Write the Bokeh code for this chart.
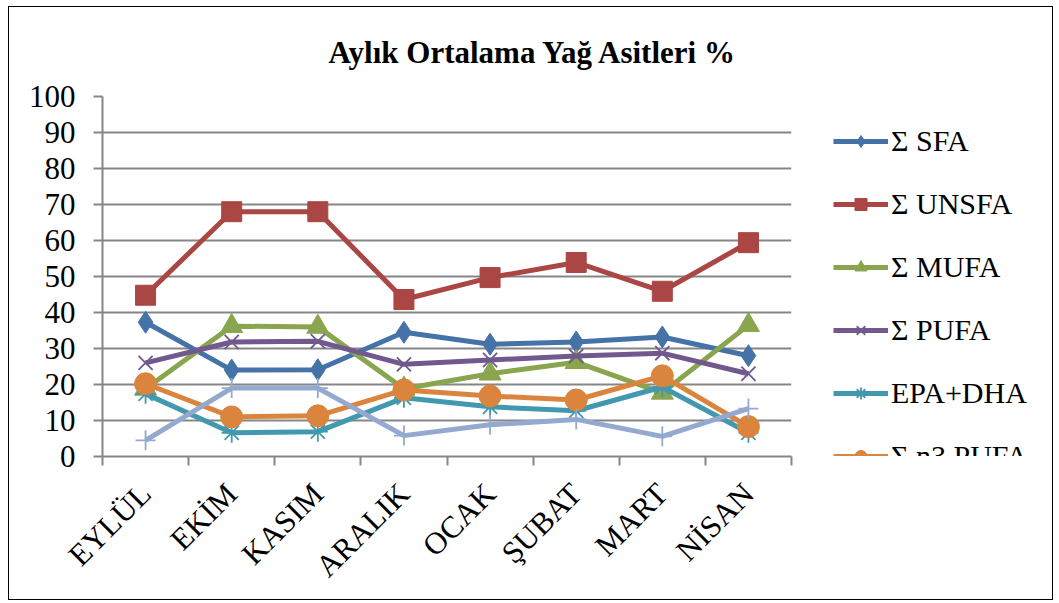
import math
from bokeh.plotting import figure
from bokeh.layouts import row
from bokeh.models import Legend, LegendItem, FixedTicker, Title, Range1d
from bokeh.embed import file_html
from bokeh.resources import INLINE

months = ["EYLÜL", "EKİM", "KASIM", "ARALIK", "OCAK", "ŞUBAT", "MART", "NİSAN"]

sfa = [37.3, 24.0, 24.1, 34.5, 31.2, 31.8, 33.2, 28.0]
unsfa = [44.8, 68.0, 68.0, 43.6, 49.7, 53.9, 45.9, 59.4]
mufa = [18.8, 36.2, 36.0, 18.8, 23.0, 26.2, 17.7, 36.5]
pufa = [26.0, 31.8, 32.0, 25.6, 26.8, 27.9, 28.7, 23.0]
epa_dha = [17.4, 6.6, 6.9, 16.3, 13.8, 12.7, 19.3, 6.6]
n3_pufa = [20.2, 11.0, 11.3, 18.5, 16.8, 15.7, 22.4, 8.3]
n6_pufa = [4.5, 19.0, 19.0, 5.8, 8.8, 10.3, 5.6, 13.3]

series_names = ["Σ SFA", "Σ UNSFA", "Σ MUFA", "Σ PUFA", "EPA+DHA", "Σ n3 PUFA", "Σ n6 PUFA"]
series_vals = [sfa, unsfa, mufa, pufa, epa_dha, n3_pufa, n6_pufa]
colors = ["#4572A7", "#AA4643", "#89A54E", "#71588F", "#4198AF", "#DB843D", "#93A9CF"]
markers = ["diamond", "square", "triangle", "x", "asterisk", "circle", "cross"]
msizes = [22, 20, 22, 20, 20, 22, 20]

SERIF = "Liberation Serif"

# category centres on a numeric axis (0..N), so ticks can sit on category boundaries
xs = [i + 0.5 for i in range(len(months))]

p = figure(width=792, height=592, x_range=Range1d(0, len(months)),
           y_range=Range1d(0, 100),
           output_backend="svg", toolbar_location=None,
           min_border_left=93, min_border_right=10, min_border_top=89, min_border_bottom=141)
p.outline_line_color = None
p.background_fill_color = "white"

t = Title(text="Aylık Ortalama Yağ Asitleri %", align="left", offset=226,
          vertical_align="top",
          text_font=SERIF, text_font_size="31px", text_font_style="bold",
          text_color="black", standoff=50)
p.add_layout(t, "above")

# legend panel: a second, axis-less figure to the right of the chart
p2 = figure(width=251, height=592, x_range=Range1d(100, 101), y_range=Range1d(100, 101),
            output_backend="svg", toolbar_location=None,
            x_axis_location=None, y_axis_location=None, min_border=0)
p2.outline_line_color = None
p2.grid.visible = False

items = []
for name, vals, c, m, s in zip(series_names, series_vals, colors, markers, msizes):
    p.line(xs, vals, line_color=c, line_width=5)
    if m in ("x", "asterisk", "cross"):
        p.scatter(xs, vals, marker=m, size=s, line_color=c, line_width=1.8)
    else:
        p.scatter(xs, vals, marker=m, size=s, fill_color=c, line_color=c)
    # same series in the legend figure (outside its visible range) to supply legend glyphs
    l2 = p2.line(xs, vals, line_color=c, line_width=5)
    if m in ("x", "asterisk", "cross"):
        s2 = p2.scatter(xs, vals, marker=m, size=s, line_color=c, line_width=1.8)
    else:
        s2 = p2.scatter(xs, vals, marker=m, size=s, fill_color=c, line_color=c)
    items.append(LegendItem(label=name, renderers=[l2, s2]))

legend = Legend(items=items, location=(32, -80), border_line_color=None,
                background_fill_alpha=0, label_text_font=SERIF,
                label_text_font_size="30px", label_text_color="black",
                glyph_width=55, glyph_height=30, label_height=30,
                spacing=29, padding=0, margin=0, label_standoff=3)
p2.add_layout(legend)

p.yaxis.ticker = FixedTicker(ticks=list(range(0, 101, 10)))
p.ygrid.ticker = FixedTicker(ticks=list(range(10, 101, 10)))
p.ygrid.grid_line_color = "#868686"
p.ygrid.grid_line_width = 2
p.xgrid.grid_line_color = None

p.xaxis.ticker = FixedTicker(ticks=xs, minor_ticks=list(range(len(months) + 1)))
p.xaxis.major_label_overrides = {x: m for x, m in zip(xs, months)}

for ax in (p.xaxis, p.yaxis):
    ax.axis_line_color = "#868686"
    ax.axis_line_width = 2
    ax.major_tick_line_color = "#868686"
    ax.major_tick_line_width = 2
    ax.major_tick_out = 9
    ax.major_tick_in = 0
    ax.minor_tick_line_color = None
    ax.major_label_text_font = SERIF
    ax.major_label_text_font_size = "31px"
    ax.major_label_text_color = "black"

p.xaxis.major_tick_line_color = None
p.xaxis.minor_tick_line_color = "#868686"
p.xaxis.minor_tick_line_width = 2
p.xaxis.minor_tick_out = 9
p.xaxis.minor_tick_in = 0

p.yaxis.major_label_standoff = 18
p.xaxis.major_label_orientation = math.pi / 4
p.xaxis.major_label_standoff = 23

layout = row(p, p2, margin=(6, 0, 0, 8), styles={"border": "1.5px solid #000000"})

open("out.html", "w").write(file_html(layout, INLINE))
